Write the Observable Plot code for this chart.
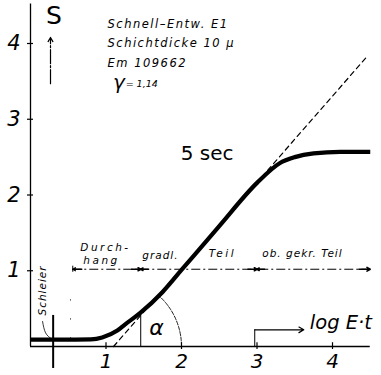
<!DOCTYPE html>
<html>
<head>
<meta charset="utf-8">
<script src="https://cdn.jsdelivr.net/npm/d3@7"></script>
<script src="https://cdn.jsdelivr.net/npm/@observablehq/plot@0.6"></script>
<style>
  html, body { margin: 0; padding: 0; background: #fff; }
  #chart { width: 381px; height: 375px; overflow: hidden; }
</style>
</head>
<body>
<div id="chart"></div>
<script>
// Characteristic curve (Schwärzungskurve), 5 sec development
const logE    = [0.00, 0.40, 0.80, 0.95, 1.15, 1.25, 1.45, 1.75, 2.00, 2.50, 3.00, 3.30, 3.50, 3.75, 4.10, 4.50];
const density = [0.09, 0.09, 0.095, 0.12, 0.21, 0.29, 0.44, 0.72, 1.01, 1.59, 2.16, 2.42, 2.50, 2.55, 2.57, 2.57];

const xTicks = [1, 2, 3, 4];
const yTicks = [1, 2, 3, 4];

const infoLines = ["Schnell–Entw. E1", "Schichtdicke 10 µ", "Em 109662"];
const gammaText = "= 1,14";
const curveLabel = "5 sec";
const xLabel = "log E·t";
const yLabel = "S";
const regionLabels = ["Durch-", "hang", "gradl.", "Teil", "ob. gekr. Teil"];

// tangent of the straight part
const gamma = 1.14;
const tangentX0 = 1.10;
const tangentXEnd = 4.44;

// regions of the curve
const regionStart = 0.56, regionEnd = 4.5;
const regionBreaks = [1.46, 3.0];
const regionLevel = 1.02;
const fogX = 0.30;

const curve = logE.map((x, i) => ({x, y: density[i]}));
const tangent = [
  {x: tangentX0, y: 0},
  {x: tangentXEnd, y: gamma * (tangentXEnd - tangentX0)}
];
const alpha = Math.atan(gamma);
const arcR = 0.9;
const arc = d3.range(0, 41).map(i => {
  const t = alpha * i / 40;
  return {x: tangentX0 + arcR * Math.cos(t), y: arcR * Math.sin(t)};
});

const font = "DejaVu Sans, sans-serif";

const chart = Plot.plot({
  width: 381,
  height: 375,
  marginLeft: 30,
  marginRight: 49,
  marginTop: 43,
  marginBottom: 29,
  x: {domain: [0, 4]},
  y: {domain: [0, 4]},
  style: {fontFamily: font, background: "#fff", color: "#000"},
  marks: [
    // axes
    Plot.ruleX([0], {y1: 0, y2: 4.52, strokeWidth: 1.3}),
    Plot.ruleY([0], {x1: 0, x2: 4.5, strokeWidth: 1.3}),
    Plot.axisY(yTicks, {tickSize: 3, tickPadding: 7, fontSize: 21, fontStyle: "italic", tickFormat: d => d, label: null, strokeWidth: 1.2}),
    Plot.ruleY(yTicks, {x1: 0, x2: 0.04, strokeWidth: 1.2}),
    Plot.axisX(xTicks, {tickSize: 3, tickPadding: 4, fontSize: 20, fontStyle: "italic", tickFormat: d => d, label: null, strokeWidth: 1.2}),
    Plot.ruleX(xTicks, {y1: 0, y2: 0.05, strokeWidth: 1.2}),

    // y label and arrow
    Plot.text([yLabel], {x: 0.31, y: 4.36, text: d => d, fontSize: 25, textAnchor: "middle", lineAnchor: "middle"}),
    Plot.arrow([0], {x1: 0.265, x2: 0.265, y1: 3.47, y2: 4.08, headLength: 6, strokeWidth: 1.2, strokeDasharray: "14,2,2,2"}),

    // info block
    Plot.text(infoLines, {x: 1.02, y: (d, i) => [4.25, 4.0, 3.74][i], text: d => d, fontSize: 11.5, fontStyle: "italic", textAnchor: "start", lineAnchor: "middle"}),
    Plot.text(["γ"], {x: 1.17, y: 3.49, text: d => d, fontSize: 20, fontStyle: "italic", textAnchor: "middle", lineAnchor: "middle"}),
    Plot.text([gammaText], {x: 1.26, y: 3.47, text: d => d, fontSize: 9.5, fontStyle: "italic", textAnchor: "start", lineAnchor: "middle"}),

    // tangent (dashed) and angle
    Plot.line(tangent, {x: "x", y: "y", stroke: "#000", strokeWidth: 1.2, strokeDasharray: "5,4"}),
    Plot.line(arc, {x: "x", y: "y", stroke: "#000", strokeWidth: 0.9, strokeDasharray: "4,1.5"}),
    Plot.text(["α"], {x: 1.67, y: 0.25, text: d => d, fontSize: 22, fontStyle: "italic", textAnchor: "middle", lineAnchor: "middle"}),
    Plot.ruleX([1.46], {y1: 0, y2: 0.44, strokeWidth: 1}),

    // region brackets
    Plot.ruleY([regionLevel], {x1: regionStart, x2: regionEnd, strokeWidth: 1, strokeDasharray: "9,3,2,3"}),
    Plot.arrow([0], {x1: regionStart + 0.12, x2: regionStart, y1: regionLevel, y2: regionLevel, headLength: 6, strokeWidth: 1.3}),
    Plot.ruleX([regionStart], {y1: regionLevel - 0.04, y2: regionLevel + 0.04, strokeWidth: 1}),
    Plot.arrow(regionBreaks, {x1: d => d - 0.12, x2: d => d, y1: regionLevel, y2: regionLevel, headLength: 6, strokeWidth: 1.6}),
    Plot.arrow(regionBreaks, {x1: d => d + 0.1, x2: d => d, y1: regionLevel, y2: regionLevel, headLength: 6, strokeWidth: 1.6}),
    Plot.arrow([0], {x1: regionEnd - 0.15, x2: regionEnd, y1: regionLevel, y2: regionLevel, headLength: 6, strokeWidth: 1.6}),
    Plot.ruleX([0.53], {y1: 0.1, y2: 0.78, strokeWidth: 1, strokeDasharray: "1,18"}),
    Plot.text(regionLabels, {
      x: [0.66, 0.70, 1.48, 2.36, 3.07],
      y: [1.31, 1.13, 1.2, 1.22, 1.22],
      text: d => d, fontSize: 10.5, fontStyle: "italic", textAnchor: "start", lineAnchor: "middle"
    }),

    // fog (Schleier)
    Plot.ruleX([fogX], {y1: -0.29, y2: 0.41, strokeWidth: 2}),
    Plot.text(["Schleier"], {x: 0.16, y: 0.74, text: d => d, fontSize: 10.5, fontStyle: "italic", rotate: -90, textAnchor: "middle", lineAnchor: "middle"}),
    Plot.line([{x: 0.16, y: 0.33}, {x: 0.2, y: 0.18}, {x: 0.28, y: 0.1}], {x: "x", y: "y", stroke: "#000", strokeWidth: 0.8, curve: "natural"}),

    // x label with arrow
    Plot.ruleX([2.97], {y1: 0, y2: 0.22, strokeWidth: 1}),
    Plot.arrow([0], {x1: 2.97, x2: 3.62, y1: 0.22, y2: 0.22, headLength: 7, strokeWidth: 1.2}),
    Plot.text([xLabel], {x: 3.7, y: 0.31, text: d => d, fontSize: 19.5, fontStyle: "italic", textAnchor: "start", lineAnchor: "middle"}),

    // characteristic curve
    Plot.line(curve, {x: "x", y: "y", stroke: "#000", strokeWidth: 4.2, curve: "monotone-x", strokeLinecap: "butt"}),
    Plot.text([curveLabel], {x: 1.99, y: 2.55, text: d => d, fontSize: 20, textAnchor: "start", lineAnchor: "middle"})
  ]
});

// letter spacing like the hand lettering of the original
const spacing = new Map([
  ...infoLines.map(t => [t, 1.5]),
  ["Durch-", 2.5], ["hang", 2.5], ["Teil", 2.5],
  ["gradl.", 1], ["ob. gekr. Teil", 1], ["Schleier", 1]
]);
d3.select(chart).selectAll("text").each(function() {
  const s = spacing.get(this.textContent);
  if (s != null) this.setAttribute("letter-spacing", s);
});
document.getElementById("chart").appendChild(chart);
</script>
</body>
</html>
